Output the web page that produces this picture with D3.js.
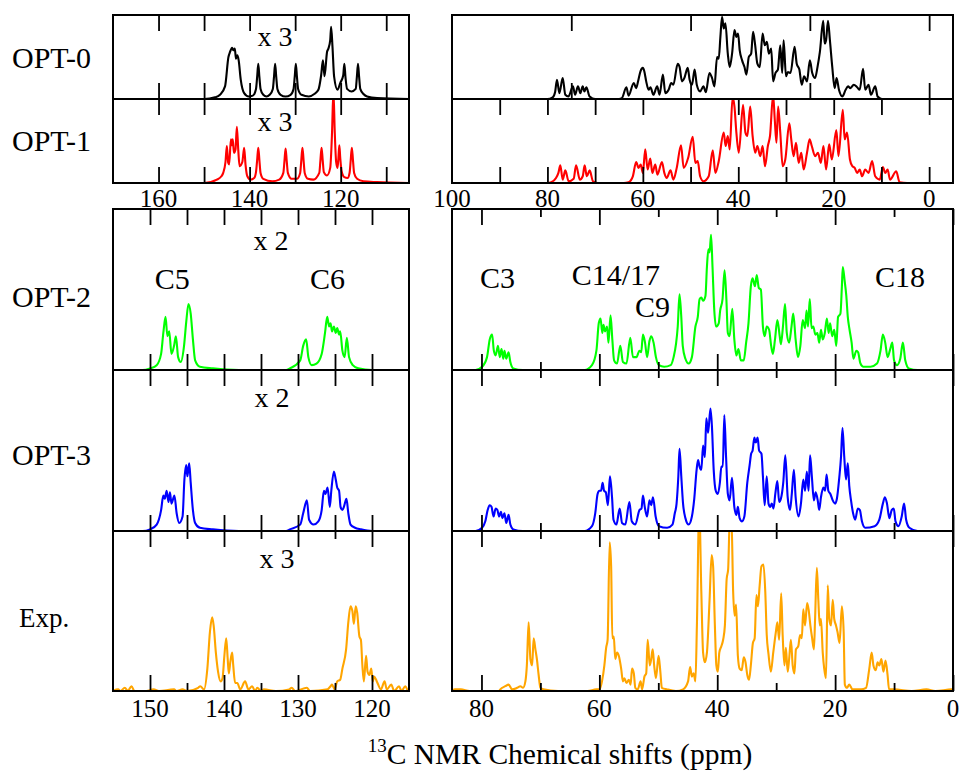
<!DOCTYPE html>
<html>
<head>
<meta charset="utf-8">
<script src="https://cdn.jsdelivr.net/npm/d3@7"></script>
<style>
  html, body { margin: 0; padding: 0; background: #fff; }
  text { font-family: "Liberation Serif", "Times New Roman", serif; fill: #000; }
</style>
</head>
<body>
<script>
// ---------------- DATA (ppm, intensity in % of panel height) ----------------
const opt0Left = [[170,0],[150,0],[147.6,2],[146.5,5],[145.4,15],[144.65,50],[144.3,56],[143.85,61],[143.55,58],[143.25,60],[143.0,48],[142.7,52],[142.4,46],[141.95,23],[141.2,7],[140.2,3],[139.3,4],[138.6,12],[138.35,26],[138.1,42],[137.85,26],[137.6,12],[137.0,5],[136.3,3],[135.6,5],[134.9,12],[134.65,26],[134.4,42],[134.15,26],[133.9,12],[133.2,5],[132.1,3],[131.0,5],[130.35,12],[130.1,26],[129.85,42],[129.6,26],[129.35,12],[128.6,5],[127,3],[125.8,6],[124.9,11],[124.3,28],[123.9,46],[123.55,27],[123.0,56],[122.7,60],[122.3,70],[122.1,86],[121.8,62],[121.45,27],[120.7,11],[120.1,19],[119.45,28],[119.2,42],[118.95,26],[118.6,12],[117.6,9],[116.7,12],[116.45,26],[116.2,42],[115.95,26],[115.7,12],[115.0,6],[114.2,3],[112,1],[105,0]];

const opt1Left = [[170,0],[150,0],[147.2,4],[146.2,8],[145.8,12],[145.3,25],[145.0,44],[144.7,24],[144.5,22],[144.1,52],[143.9,45],[143.7,52],[143.45,36],[143.1,40],[142.8,67],[142.5,40],[142.2,20],[141.6,25],[141.2,42],[140.9,22],[140.5,8],[139.8,4],[139.0,6],[138.6,13],[138.35,27],[138.1,42],[137.85,27],[137.6,12],[137.0,5],[135,2],[133.5,4],[132.6,12],[132.35,26],[132.1,41],[131.85,26],[131.6,12],[130.8,5],[129.6,5],[128.9,12],[128.65,27],[128.4,42],[128.15,27],[127.9,12],[127.2,5],[126,4],[124.7,12],[124.45,27],[124.2,42],[123.95,27],[123.7,13],[123,9],[122.3,18],[121.9,60],[121.6,110],[121.3,60],[121.0,25],[120.7,18],[120.5,30],[120.3,45],[120.1,30],[119.8,14],[119.2,7],[118.5,6],[118.05,12],[117.8,27],[117.55,42],[117.3,27],[117.05,12],[116.4,5],[115,2],[112,1],[105,0]];

const opt0Right = [[100,0],[80,0],[78.9,2],[78.4,8],[78.0,23],[77.5,7],[76.8,25],[76.25,5],[75.6,3],[74.65,15],[74.2,5],[73.6,15],[73.1,7],[72.6,15],[72.25,9],[71.85,14],[71.15,3],[70.0,0],[65,0],[64.4,1],[63.45,14],[63.0,4],[61.9,19],[61.4,13],[61.0,21],[60.5,33],[60.0,37],[59.7,33],[59.3,21],[58.8,11],[58.4,14],[57.8,5],[57.0,15],[56.5,5],[55.8,29],[55.3,7],[54.6,11],[54.05,19],[53.6,17],[52.7,42],[52.3,38],[51.8,21],[51.3,25],[50.6,37],[50.2,23],[49.7,17],[49.15,35],[48.7,17],[48.0,9],[47.3,15],[46.8,8],[46.05,31],[45.5,25],[45.0,15],[44.45,50],[44.1,48],[43.75,74],[43.4,98],[43.05,84],[42.7,90],[42.2,54],[41.8,38],[41.3,54],[40.8,82],[40.4,74],[40.05,78],[39.7,58],[39.2,46],[38.7,38],[38.3,29],[37.8,50],[37.3,54],[36.9,80],[36.5,66],[36.0,42],[35.5,38],[34.9,78],[34.45,64],[34.0,68],[33.6,54],[33.1,60],[32.7,21],[32.2,31],[31.7,35],[31.2,64],[30.8,31],[30.5,70],[30.0,27],[29.6,32],[29.05,31],[28.2,62],[27.75,42],[27.2,35],[26.7,17],[26.2,27],[25.6,21],[25.0,46],[24.5,31],[23.9,25],[23.4,38],[22.9,56],[22.2,93],[21.9,66],[21.6,70],[21.2,93],[20.8,70],[20.3,38],[19.8,13],[19.4,25],[18.9,11],[18.2,3],[17.5,11],[17.0,15],[16.5,13],[15.8,17],[15.1,14],[14.55,11],[13.85,36],[13.4,11],[12.7,17],[12.2,5],[11.3,15],[10.8,3],[9.9,0],[-5,0]];

const opt1Right = [[100,0],[80,0],[79.2,1],[78.2,6],[77.7,12],[77.3,21],[76.8,4],[76.25,15],[75.55,2],[74.5,5],[74.0,21],[73.2,4],[72.6,8],[72.2,21],[71.75,8],[71.15,15],[70.45,2],[69.5,0],[64,0],[63.0,1],[62.1,8],[61.4,25],[60.9,18],[60.45,22],[60.0,12],[59.5,40],[59.0,16],[58.45,29],[58.0,12],[57.4,22],[56.95,10],[56.0,25],[55.5,12],[55.0,6],[54.2,15],[53.6,4],[52.9,18],[52.0,45],[51.45,18],[50.5,30],[49.55,55],[49.0,24],[48.5,26],[48.0,8],[47.3,2],[46.2,8],[45.35,39],[44.8,12],[44.1,26],[43.05,60],[42.65,44],[42.2,56],[41.8,40],[41.2,102],[40.8,91],[40.4,60],[39.9,36],[39.0,93],[38.5,60],[38.1,56],[37.5,91],[37.0,56],[36.45,36],[36.0,44],[35.4,32],[34.9,44],[34.4,20],[33.8,44],[33.35,56],[32.7,105],[32.35,75],[32.0,48],[31.65,91],[31.2,60],[30.7,20],[30.15,28],[29.3,71],[28.9,52],[28.4,32],[27.9,48],[27.35,24],[26.8,36],[26.3,16],[25.6,36],[25.05,52],[24.6,44],[23.9,32],[23.3,36],[22.7,24],[22.15,44],[21.6,16],[20.95,46],[20.4,28],[19.45,63],[19.0,32],[18.1,87],[17.7,52],[17.2,60],[16.6,28],[16.1,20],[15.6,18],[15.1,12],[14.55,16],[14.05,8],[13.4,16],[12.7,12],[11.95,26],[11.3,8],[10.35,4],[9.7,19],[9.2,12],[8.7,16],[8.2,4],[6.9,14],[6.2,1],[4.6,0],[-5,0]];

const opt2Left = [[155,0],[151,0],[150.0,1],[149.1,3],[148.5,10],[148.2,23],[147.9,33],[147.65,21],[147.4,24],[147.1,10],[146.75,15],[146.5,21],[146.2,8],[145.85,5],[145.4,15],[145.1,30],[144.8,41],[144.5,35],[144.2,19],[143.9,6],[143.25,2],[141.5,1],[138,0],[131.6,0],[131.1,1],[129.7,6],[129.3,15],[128.9,19],[128.6,8],[128.15,3],[127.5,4],[126.8,10],[126.35,23],[126.05,33],[125.8,27],[125.6,29],[125.4,24],[125.15,27],[124.9,23],[124.7,26],[124.45,22],[124.3,24],[124.0,12],[123.7,8],[123.4,20],[123.1,8],[122.6,3],[121.85,1],[120,0],[115,0]];

const opt2Right = [[85,0],[81,0],[79.9,2],[79.06,8],[78.6,19],[78.2,22],[77.9,12],[77.6,9],[77.2,15],[76.9,8],[76.6,13],[76.3,7],[76.1,12],[75.8,7],[75.4,11],[75.1,5],[74.6,1],[73,0],[62.5,0],[61.25,3],[60.5,12],[60.1,29],[59.8,32],[59.5,23],[59.3,28],[59.05,24],[58.7,27],[58.45,17],[58.1,34],[57.8,19],[57.5,6],[57.0,4],[56.45,15],[56.0,5],[55.4,4],[54.75,20],[54.3,8],[53.7,8],[53.2,12],[52.9,11],[52.6,22],[52.25,17],[51.9,8],[51.5,18],[51.2,21],[50.8,17],[50.4,8],[49.9,3],[49.0,2],[47.9,3],[47.4,8],[47.0,16],[46.7,27],[46.4,47],[46.1,33],[45.85,15],[45.4,7],[44.85,4],[44.3,8],[43.7,27],[43.3,33],[43.0,44],[42.7,45],[42.4,43],[42.0,46],[41.75,64],[41.5,75],[41.3,73],[41.05,84],[40.8,64],[40.5,37],[40.2,27],[39.75,29],[39.5,37],[39.1,44],[38.75,62],[38.45,44],[38.2,23],[37.9,21],[37.45,38],[37.1,19],[36.75,9],[36.4,13],[36.0,6],[35.5,6],[35.1,17],[34.7,29],[34.3,52],[34.0,57],[33.6,52],[33.3,59],[32.95,51],[32.6,50],[32.25,27],[31.95,21],[31.6,27],[31.2,25],[30.85,15],[30.55,10],[30.2,19],[29.8,31],[29.4,21],[29.2,16],[28.85,27],[28.5,41],[28.2,23],[27.8,17],[27.4,27],[27.1,35],[26.7,19],[26.3,8],[25.9,15],[25.5,31],[25.1,26],[24.85,37],[24.6,27],[24.3,44],[24.0,26],[23.7,27],[23.35,22],[23.0,23],[22.7,17],[22.4,25],[22.1,19],[21.75,23],[21.4,32],[21.1,23],[20.85,29],[20.5,21],[20.15,25],[19.8,15],[19.5,33],[19.1,35],[18.85,52],[18.7,64],[18.4,56],[18.1,46],[17.85,33],[17.55,25],[17.2,17],[16.9,7],[16.4,12],[16.1,11],[15.7,4],[15.2,2],[14.0,2],[12.9,4],[12.3,12],[11.9,22],[11.5,17],[11.1,8],[10.65,13],[10.3,17],[10.0,6],[9.5,3],[8.95,7],[8.5,17],[8.1,6],[7.5,1],[6,0],[0,0]];

const opt3Left = [[155,0],[151,0],[150,1],[149.1,4],[148.5,13],[148.2,22],[148.0,20],[147.75,25],[147.5,18],[147.3,24],[147.1,17],[146.7,22],[146.4,11],[146.05,5],[145.6,9],[145.35,32],[145.1,41],[144.95,34],[144.7,42],[144.5,30],[144.2,13],[143.9,5],[143.25,2],[141.5,1],[138,0],[131.6,0],[131.1,1],[129.7,4],[129.3,11],[128.8,19],[128.5,7],[127.9,4],[127.25,6],[126.8,13],[126.5,25],[126.3,23],[126.0,27],[125.7,15],[125.5,25],[125.15,37],[124.9,32],[124.7,27],[124.45,25],[124.25,15],[124.0,13],[123.8,15],[123.45,20],[123.2,11],[122.9,4],[122.3,2],[121.5,1],[120,0],[115,0]];

const opt3Right = [[85,0],[81,0],[79.9,2],[79.35,6],[78.95,13],[78.6,16],[78.3,15],[77.95,9],[77.6,14],[77.3,13],[77.0,9],[76.7,12],[76.45,8],[76.1,11],[75.8,5],[75.4,10],[75.1,4],[74.6,1],[73,0],[62.5,0],[61.25,3],[60.7,11],[60.3,23],[60.0,25],[59.7,25],[59.45,30],[59.2,25],[58.9,24],[58.55,16],[58.2,34],[57.85,21],[57.6,7],[57.1,4],[56.55,14],[56.15,5],[55.6,4],[54.9,18],[54.5,6],[53.9,4],[53.2,13],[52.85,14],[52.6,22],[52.3,15],[51.9,9],[51.5,19],[51.2,16],[50.9,21],[50.45,9],[49.9,3],[48.5,2],[47.6,4],[47.2,11],[46.9,17],[46.6,34],[46.4,51],[46.1,34],[45.8,17],[45.4,8],[44.85,4],[44.3,9],[43.9,20],[43.5,38],[43.25,44],[43.0,40],[42.7,38],[42.4,53],[42.1,46],[41.85,70],[41.55,61],[41.15,76],[40.9,65],[40.6,38],[40.25,25],[39.9,23],[39.55,30],[39.3,40],[39.05,40],[38.8,72],[38.5,46],[38.2,23],[37.9,19],[37.5,33],[37.1,15],[36.75,10],[36.5,15],[36.2,8],[35.8,6],[35.4,9],[34.9,30],[34.5,41],[34.25,48],[34.0,50],[33.7,58],[33.45,55],[33.15,58],[32.9,50],[32.5,48],[32.25,34],[31.95,16],[31.6,34],[31.3,17],[31.0,15],[30.75,17],[30.45,14],[30.15,23],[29.8,31],[29.5,18],[29.2,20],[28.8,30],[28.45,47],[28.05,21],[27.65,13],[27.35,23],[27.0,38],[26.7,21],[26.2,9],[25.8,17],[25.4,32],[25.1,25],[24.8,37],[24.5,25],[24.25,47],[23.95,34],[23.6,19],[23.3,24],[22.95,19],[22.7,13],[22.4,21],[22.0,27],[21.7,25],[21.45,35],[21.15,25],[20.8,23],[20.4,19],[20.0,17],[19.7,20],[19.3,33],[19.0,46],[18.75,64],[18.45,46],[18.15,32],[17.85,42],[17.6,28],[17.3,19],[16.95,11],[16.6,7],[16.15,14],[15.8,13],[15.45,6],[14.9,2],[13.3,3],[12.5,7],[11.9,17],[11.55,21],[11.2,17],[10.8,8],[10.4,13],[10.05,14],[9.75,6],[9.25,3],[8.7,9],[8.3,17],[7.95,7],[7.4,2],[6,0],[0,0]];

const expLeft = [[155,0],[154.3,1],[154.0,0],[153.4,2],[153.0,0],[152.5,3],[152.1,0],[150.5,0],[149.5,1],[148.8,0],[146.75,1],[146.4,0],[145.6,1],[145.0,0],[143.5,2],[143.2,3],[142.7,1],[142.25,14],[141.9,37],[141.6,46],[141.4,41],[141.1,24],[140.8,12],[140.45,6],[140.2,8],[139.95,22],[139.7,33],[139.5,20],[139.35,11],[139.15,18],[138.9,24],[138.75,16],[138.5,5],[138.2,5],[137.8,1],[137.15,6],[136.7,1],[136.2,3],[135.8,0],[135.5,2],[135.0,0],[134.6,1],[133,0],[131.2,1],[130.85,2],[130.4,0],[128.8,2],[128.4,0],[126,1],[125.6,3],[125.4,4],[125.05,1],[124.7,6],[124.3,7],[124.0,14],[123.5,26],[123.2,43],[122.9,53],[122.65,50],[122.45,42],[122.2,53],[122.0,49],[121.7,34],[121.5,32],[121.3,16],[121.1,6],[120.8,22],[120.6,12],[120.35,10],[120.1,14],[119.9,6],[119.7,9],[119.35,6],[118.8,1],[118.3,6],[118.0,1],[117.4,4],[117.0,0],[116.35,3],[116.0,0],[115.5,3],[115.1,0],[115,0]];

const expRight = [[85,0],[84.5,1],[83.5,1],[82,0],[77,0],[76.8,1],[75.95,3],[75.4,4],[74.8,1],[73.95,2],[73.4,3],[72.95,2],[72.55,6],[72.3,16],[72.0,43],[71.7,20],[71.4,16],[71.15,33],[70.85,26],[70.6,20],[70.3,10],[70.0,2],[69.5,1],[67,0],[62,0],[60.5,1],[59.95,1],[59.55,6],[59.15,16],[58.85,27],[58.6,32],[58.25,93],[58.0,78],[57.8,33],[57.55,34],[57.3,20],[57.0,24],[56.7,22],[56.3,14],[56.0,6],[55.75,8],[55.4,5],[55.0,7],[54.7,4],[54.45,14],[54.15,11],[53.9,2],[53.5,1],[53.0,6],[52.75,1],[52.35,9],[52.05,11],[51.8,32],[51.45,16],[51.2,20],[50.95,26],[50.7,16],[50.4,8],[49.95,22],[49.65,12],[49.4,2],[48.5,1],[47,0],[45.8,1],[44.95,6],[44.6,15],[44.3,9],[44.0,11],[43.7,6],[43.45,41],[43.05,115],[42.7,62],[42.4,24],[42.1,18],[41.75,24],[41.3,57],[40.95,85],[40.7,78],[40.4,41],[40.15,16],[39.9,12],[39.65,24],[39.3,28],[39.0,32],[38.7,41],[38.4,70],[38.15,76],[37.85,110],[37.6,110],[37.3,62],[37.05,47],[36.8,54],[36.5,22],[36.2,14],[35.85,13],[35.5,21],[35.2,18],[34.9,10],[34.6,7],[34.3,16],[33.95,30],[33.65,33],[33.35,60],[33.1,53],[32.8,66],[32.5,78],[32.15,79],[31.85,62],[31.6,35],[31.3,23],[30.9,12],[30.5,24],[30.05,37],[29.8,43],[29.5,32],[29.15,61],[28.9,35],[28.6,16],[28.35,27],[28.05,12],[27.8,20],[27.5,32],[27.2,16],[26.9,11],[26.65,26],[26.25,28],[25.95,35],[25.65,33],[25.4,51],[25.1,41],[24.75,55],[24.5,51],[24.2,41],[23.9,33],[23.6,26],[23.4,45],[23.1,77],[22.85,57],[22.6,41],[22.4,45],[22.1,24],[21.85,14],[21.55,8],[21.25,66],[21.0,45],[20.7,41],[20.4,57],[20.15,45],[19.85,41],[19.6,37],[19.25,30],[18.85,53],[18.55,37],[18.35,4],[18.0,2],[17.6,4],[17.05,1],[15.6,1],[14.75,2],[14.2,14],[13.8,24],[13.5,16],[13.1,13],[12.8,18],[12.5,16],[12.15,20],[11.8,12],[11.45,19],[11.1,10],[10.85,1],[10.0,1],[7,0],[4.5,1],[3,0],[0.2,1],[0,0]];

// labels & ticks
const rowLabels = ["OPT-0", "OPT-1", "OPT-2", "OPT-3", "Exp."];
const scaleLabels = ["x 3", "x 3", "x 2", "x 2", "x 3"];
const leftAssign = [["C5", 147], ["C6", 126]];
const rightAssign = [["C3", 77.3], ["C14/17", 57.2], ["C9", 51.0], ["C18", 9.0]];

const topLeftTicks = [160, 150, 140, 130, 120, 110];
const topLeftLabels = [160, 140, 120];
const topRightTicksOpt0 = [75, 50, 25, 0];
const topRightTicks = [90, 80, 70, 60, 50, 40, 30, 20, 10, 0];
const topRightLabels = [100, 80, 60, 40, 20, 0];
const botLeftTicks = [150, 145, 140, 135, 130, 125, 120];
const botLeftMajor = [150, 140, 130, 120];
const botLeftMinor = [145, 135, 125];
const botRightMajor = [80, 60, 40, 20, 0];
const botRightMinor = [70, 50, 30, 10];
const axisTitle = ["13", "C NMR Chemical shifts (ppm)"];

// ---------------- LAYOUT ----------------
const W = 962, H = 771;
const LX = [113, 409], RX = [452, 953];
const rows = [
  { y0: 15, y1: 99 },
  { y0: 99, y1: 183 },
  { y0: 209, y1: 370 },
  { y0: 370, y1: 531 },
  { y0: 531, y1: 691 }
];
const colors = ["#000000", "#ff0000", "#00ff00", "#0000ff", "#ffa500"];
const leftDomains = [[170, 105], [170, 105], [155, 115], [155, 115], [155, 115]];
const rightDomains = [[100, -5], [100, -5], [85, 0], [85, 0], [85, 0]];
const leftData = [opt0Left, opt1Left, opt2Left, opt3Left, expLeft];
const rightData = [opt0Right, opt1Right, opt2Right, opt3Right, expRight];

const svg = d3.select("body").append("svg")
  .attr("width", W).attr("height", H)
  .attr("viewBox", `0 0 ${W} ${H}`);

const defs = svg.append("defs");
const MAJ = 16, MIN = 8;

function drawTicks(g, x, y0, y1, vals, len) {
  g.append("g").attr("transform", `translate(0,${y1})`)
    .call(d3.axisBottom(x).tickValues(vals).tickSize(-len).tickFormat(""))
    .call(s => s.select(".domain").remove())
    .call(s => s.selectAll("line").attr("stroke", "#000").attr("stroke-width", 1.8));
  g.append("g").attr("transform", `translate(0,${y0})`)
    .call(d3.axisTop(x).tickValues(vals).tickSize(-len).tickFormat(""))
    .call(s => s.select(".domain").remove())
    .call(s => s.selectAll("line").attr("stroke", "#000").attr("stroke-width", 1.8));
}

const scales = [];
rows.forEach((r, i) => {
  [0, 1].forEach(side => {
    const xr = side === 0 ? LX : RX;
    const dom = side === 0 ? leftDomains[i] : rightDomains[i];
    const data = side === 0 ? leftData[i] : rightData[i];
    const x = d3.scaleLinear().domain(dom).range(xr);
    const y = d3.scaleLinear().domain([0, 100]).range([r.y1, r.y0]);
    scales.push({ i, side, x, y });
    const id = `clip-${i}-${side}`;
    defs.append("clipPath").attr("id", id).append("rect")
      .attr("x", xr[0]).attr("y", r.y0).attr("width", xr[1] - xr[0]).attr("height", r.y1 - r.y0);
    const g = svg.append("g");
    g.append("path")
      .datum(data)
      .attr("clip-path", `url(#${id})`)
      .attr("fill", "none")
      .attr("stroke", colors[i])
      .attr("stroke-width", 2.1)
      .attr("stroke-linejoin", "round")
      .attr("d", d3.line().x(d => x(d[0])).y(d => y(d[1])).curve(d3.curveMonotoneX));
    if (i < 2) {
      if (side === 0) drawTicks(g, x, r.y0, r.y1, topLeftTicks, MAJ);
      else drawTicks(g, x, r.y0, r.y1, i === 0 ? topRightTicksOpt0 : topRightTicks, MAJ);
    } else {
      if (side === 0) {
        if (i < 4) drawTicks(g, x, r.y0, r.y1, botLeftTicks, MAJ);
        else { drawTicks(g, x, r.y0, r.y1, botLeftMajor, MAJ); drawTicks(g, x, r.y0, r.y1, botLeftMinor, MIN); }
      } else {
        drawTicks(g, x, r.y0, r.y1, botRightMajor, MAJ);
        drawTicks(g, x, r.y0, r.y1, botRightMinor, MIN);
      }
    }
    g.append("rect")
      .attr("x", xr[0]).attr("y", r.y0).attr("width", xr[1] - xr[0]).attr("height", r.y1 - r.y0)
      .attr("fill", "none").attr("stroke", "#000").attr("stroke-width", 2);
  });
});

const sc = (i, side) => scales.find(s => s.i === i && s.side === side);

// tick labels
const tlFont = 25;
topLeftLabels.forEach(v => svg.append("text").attr("x", sc(1, 0).x(v)).attr("y", 207)
  .attr("text-anchor", "middle").attr("font-size", tlFont).text(v));
topRightLabels.forEach(v => svg.append("text").attr("x", sc(1, 1).x(v)).attr("y", 207)
  .attr("text-anchor", "middle").attr("font-size", tlFont).text(v));
botLeftMajor.forEach(v => svg.append("text").attr("x", sc(4, 0).x(v)).attr("y", 717)
  .attr("text-anchor", "middle").attr("font-size", tlFont).text(v));
botRightMajor.forEach(v => svg.append("text").attr("x", sc(4, 1).x(v)).attr("y", 717)
  .attr("text-anchor", "middle").attr("font-size", tlFont).text(v));

// row labels
const rowLabelY = [68, 151, 307, 465, 627];
const rowLabelX = [12, 12, 12, 12, 19];
const rowLabelSize = [30, 30, 30, 30, 27];
rowLabels.forEach((t, i) => svg.append("text").attr("x", rowLabelX[i]).attr("y", rowLabelY[i])
  .attr("font-size", rowLabelSize[i]).text(t));

// scale factors
const scaleY = [46, 131, 250, 407, 568];
const scaleX = [275, 275, 271, 272, 277];
scaleLabels.forEach((t, i) => svg.append("text").attr("x", scaleX[i]).attr("y", scaleY[i])
  .attr("text-anchor", "middle").attr("font-size", 28).text(t));

// assignments
const leftAssignY = [289, 289];
leftAssign.forEach((a, k) => svg.append("text").attr("x", sc(2, 0).x(a[1])).attr("y", leftAssignY[k])
  .attr("text-anchor", "middle").attr("font-size", 30).text(a[0]));
const rightAssignY = [288, 285, 317, 287];
rightAssign.forEach((a, k) => svg.append("text").attr("x", sc(2, 1).x(a[1])).attr("y", rightAssignY[k])
  .attr("text-anchor", "middle").attr("font-size", 30).text(a[0]));

// axis title
const title = svg.append("text").attr("x", 560).attr("y", 764).attr("text-anchor", "middle").attr("font-size", 29.5);
title.append("tspan").attr("font-size", 19).attr("dy", -12).text(axisTitle[0]);
title.append("tspan").attr("dy", 12).text(axisTitle[1]);
</script>
</body>
</html>
